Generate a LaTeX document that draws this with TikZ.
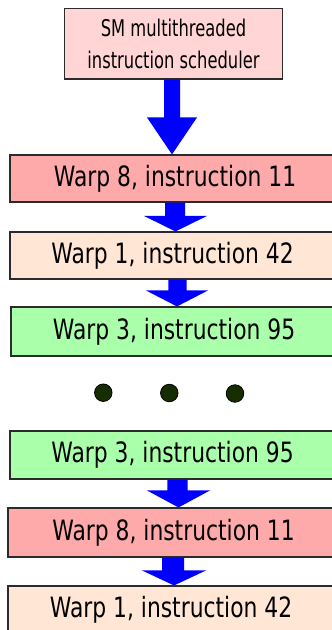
\documentclass[tikz,border=0pt]{standalone}
\usepackage{fontspec}
\usetikzlibrary{calc}
\newfontfamily\warpfont[FakeStretch=0.78]{DejaVu Sans}
\newfontfamily\topfont[FakeStretch=0.71]{DejaVu Sans}
\definecolor{topfill}{HTML}{FFD5D5}
\definecolor{redfill}{HTML}{FFAAAA}
\definecolor{peachfill}{HTML}{FFE6D5}
\definecolor{greenfill}{HTML}{AAFFAA}
\definecolor{bordercol}{HTML}{2B2B2B}
\definecolor{arrowblue}{HTML}{0000FF}
\definecolor{dotfill}{HTML}{162D00}
\newcommand\blockarrow[7]{%
  \fill[arrowblue] let \p1=(#1.south), \p2=(#2.north) in
    ({#3pt-#4pt},\y1) -- ({#3pt-#4pt},{\y2+#7pt}) -- ({#5pt-#6pt},{\y2+#7pt})
    -- (#5pt,\y2) -- ({#5pt+#6pt},{\y2+#7pt}) -- ({#3pt+#4pt},{\y2+#7pt})
    -- ({#3pt+#4pt},\y1) -- cycle;}
\tikzset{
  box/.style={draw=bordercol, line width=1.1pt, inner sep=0pt, rectangle},
  warpbox/.style={box, font=\warpfont\fontsize{28}{34}\selectfont},
  topbox/.style={box, fill=topfill, align=center,
    font=\topfont\fontsize{23}{31.7}\selectfont},
  dot/.style={circle, draw=black, line width=0.8pt, fill=dotfill,
    minimum size=17.5pt, inner sep=0pt}
}
\begin{document}
\begin{tikzpicture}[x=1pt,y=1pt]
\useasboundingbox (0,0) rectangle (332,-630);
\begin{scope}
\clip (0,0) rectangle (332,-630);
\fill[white] (0,0) rectangle (332,-630);
\node[topbox, minimum width=218.4pt, minimum height=70.7pt] (sched) at (173.5,-43.65)
  {SM multithreaded\\instruction scheduler};
\node[warpbox, fill=redfill, minimum width=330pt, minimum height=47pt] (b1) at (175,-178.5) {Warp 8, instruction 11};
\node[warpbox, fill=peachfill, minimum width=325pt, minimum height=47pt] (b2) at (172.5,-255.5) {Warp 1, instruction 42};
\node[warpbox, fill=greenfill, minimum width=326pt, minimum height=49pt] (b3) at (174,-331.5) {Warp 3, instruction 95};
\node[dot] (d1) at (103.3,-392.7) {};
\node[dot] (d2) at (169.3,-393) {};
\node[dot] (d3) at (235,-393.5) {};
\node[warpbox, fill=greenfill, minimum width=325pt, minimum height=48pt] (b4) at (172.5,-455) {Warp 3, instruction 95};
\node[warpbox, fill=redfill, minimum width=331pt, minimum height=49pt] (b5) at (173.5,-532.5) {Warp 8, instruction 11};
\node[warpbox, fill=peachfill, minimum width=326pt, minimum height=47pt] (b6) at (171,-609.5) {Warp 1, instruction 42};
\blockarrow{sched}{b1}{172}{8}{172}{25}{37}
\blockarrow{b1}{b2}{175}{10}{175.5}{31.5}{15.5}
\blockarrow{b2}{b3}{177.5}{9.2}{177}{31}{16}
\blockarrow{b4}{b5}{177.5}{10.2}{178.5}{31.5}{17}
\blockarrow{b5}{b6}{173}{11}{174}{32}{15}
\end{scope}
\end{tikzpicture}
\end{document}
